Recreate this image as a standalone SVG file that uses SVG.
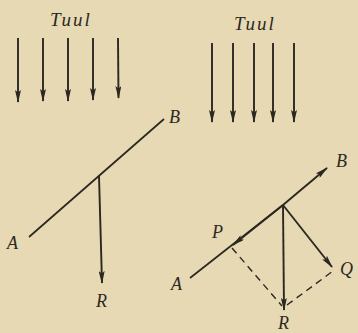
<svg xmlns="http://www.w3.org/2000/svg" width="358" height="333" viewBox="0 0 358 333">
<style>
.ln{stroke:#2b2822;stroke-width:1.7;fill:none}
.ar{stroke:#2b2822;stroke-width:1.9;fill:none;marker-end:url(#ah)}
.ds{stroke:#2b2822;stroke-width:1.4;fill:none;stroke-dasharray:7 5}
text{font-family:"Liberation Serif","DejaVu Serif",serif;font-style:italic;font-size:18px;fill:#2b2822}
.t{font-size:19px;letter-spacing:2px}
</style>
<defs>
<marker id="ah" viewBox="0 0 13 6" refX="12" refY="3" markerWidth="13" markerHeight="6" markerUnits="userSpaceOnUse" orient="auto">
<path d="M0,0 L13,3 L0,6 L2.5,3 Z" fill="#2b2822"/>
</marker>
</defs>
<rect width="358" height="333" fill="#e7d9b4"/>
<g id="wind-left">
<text class="t" x="50" y="26">Tuul</text>
<line class="ar" x1="18" y1="38" x2="18" y2="102"/>
<line class="ar" x1="43" y1="38" x2="43" y2="101"/>
<line class="ar" x1="68" y1="38" x2="68" y2="101"/>
<line class="ar" x1="93" y1="38" x2="93" y2="100"/>
<line class="ar" x1="118" y1="38" x2="118.5" y2="98"/>
</g>
<g id="wind-right">
<text class="t" x="234" y="30">Tuul</text>
<line class="ar" x1="212" y1="43" x2="212" y2="122"/>
<line class="ar" x1="233" y1="43" x2="233" y2="122"/>
<line class="ar" x1="254" y1="43" x2="254" y2="122"/>
<line class="ar" x1="273" y1="43" x2="273" y2="122"/>
<line class="ar" x1="294" y1="43" x2="294" y2="122"/>
</g>
<g id="left-plate">
<line class="ln" x1="29" y1="237" x2="164" y2="119"/>
<text x="7" y="249">A</text>
<text x="169" y="123">B</text>
</g>
<g id="left-R">
<text x="96" y="307">R</text>
</g>
<g id="right-plate">
<line class="ln" x1="190" y1="278" x2="283" y2="205"/>
<text x="171" y="290">A</text>
<text x="336" y="167">B</text>
</g>
<g id="right-labels">
<text x="212" y="238">P</text>
<text x="340" y="275">Q</text>
<text x="278" y="329">R</text>
</g>
<g id="connectors">
<line class="ar" x1="99" y1="176" x2="102" y2="283"/>
<line class="ar" x1="283" y1="205" x2="327" y2="168"/>
<line class="ar" x1="283" y1="205" x2="233" y2="245"/>
<line class="ar" x1="283" y1="205" x2="284" y2="310"/>
<line class="ar" x1="283" y1="205" x2="332" y2="267"/>
<line class="ds" x1="232" y1="248" x2="282" y2="306"/>
<line class="ds" x1="287" y1="305" x2="333" y2="271"/>
</g>
</svg>
